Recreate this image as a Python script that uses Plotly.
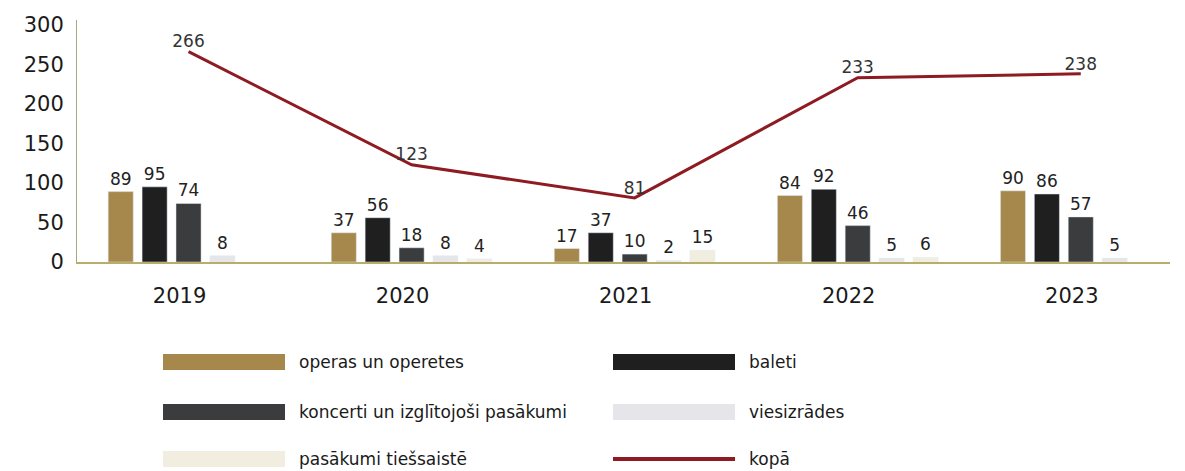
import plotly.graph_objects as go

years = ["2019", "2020", "2021", "2022", "2023"]
operas = [89, 37, 17, 84, 90]
baleti = [95, 56, 37, 92, 86]
koncerti = [74, 18, 10, 46, 57]
viesizrades = [8, 8, 2, 5, 5]
tiessaiste = [None, 4, 15, 6, None]
kopa = [266, 123, 81, 233, 238]

names = ["operas un operetes", "baleti", "koncerti un izglītojoši pasākumi",
         "viesizrādes", "pasākumi tiešsaistē", "kopā"]
colors = ["#a6884c", "#1f1f1f", "#3b3c3e", "#e6e6ea", "#f1eee0", "#8e1b22"]

# page body has an 8px margin, so the figure is drawn 8px in from the corner
OFF = 8
W, H = 1185 - OFF, 471 - OFF
L, R, T = 77 - OFF, 15, 20 - OFF
B = H - (262 - OFF)
FONT = "DejaVu Sans"

fig = go.Figure()
for name, vals, col in zip(names[:5], [operas, baleti, koncerti, viesizrades, tiessaiste], colors[:5]):
    fig.add_trace(go.Bar(
        x=years, y=vals, name=name, marker_color=col,
        text=vals, textposition="outside", cliponaxis=False,
        textfont=dict(size=17, color="#222222", family=FONT),
        showlegend=False,
    ))

fig.add_trace(go.Scatter(
    x=years, y=kopa, name=names[5], mode="lines+text",
    line=dict(color=colors[5], width=3),
    text=kopa, textposition="top center",
    textfont=dict(size=17, color="#333333", family=FONT),
    showlegend=False, cliponaxis=False,
))

# custom legend with wide swatches (positions in page pixels)
pw, ph = W - L - R, H - T - B
def px(x):
    return (x - OFF - L) / pw
def py(y):
    return (H - B - (y - OFF)) / ph

col_x = [163, 613]
row_y = [362, 412, 459]
shapes, annos = [], []
for i, (name, col) in enumerate(zip(names, colors)):
    cx = col_x[i % 2]
    ry = row_y[i // 2]
    if i == 5:
        shapes.append(dict(type="line", xref="paper", yref="paper",
                           x0=px(cx), x1=px(cx + 122), y0=py(ry), y1=py(ry),
                           line=dict(color=col, width=4)))
    else:
        shapes.append(dict(type="rect", xref="paper", yref="paper",
                           x0=px(cx), x1=px(cx + 122), y0=py(ry - 8), y1=py(ry + 8),
                           fillcolor=col, line=dict(width=0)))
    annos.append(dict(text=name, xref="paper", yref="paper", x=px(cx + 134), y=py(ry),
                      xanchor="left", yanchor="middle", showarrow=False,
                      font=dict(size=17, color="#1a1a1a", family=FONT)))

fig.update_layout(
    width=W, height=H,
    margin=dict(l=L, r=R, t=T, b=B, autoexpand=False),
    paper_bgcolor="white", plot_bgcolor="white",
    barmode="group", bargap=0.24, bargroupgap=0.26,
    font=dict(family=FONT, color="#1a1a1a"),
    shapes=shapes, annotations=annos,
    xaxis=dict(type="category", range=[-0.5, 4.4], showline=True, automargin=False,
               linecolor="#b9ad6c", linewidth=2, showgrid=False, ticks="",
               tickfont=dict(size=21), ticklabelstandoff=14, ticklabelshift=-9),
    yaxis=dict(range=[0, 306], tickvals=[0, 50, 100, 150, 200, 250, 300], automargin=False,
               showline=True, linecolor="#a9a680", linewidth=1, showgrid=False,
               zeroline=False, ticks="", tickfont=dict(size=21), ticklabelstandoff=8),
)

fig.write_html("out.html")
